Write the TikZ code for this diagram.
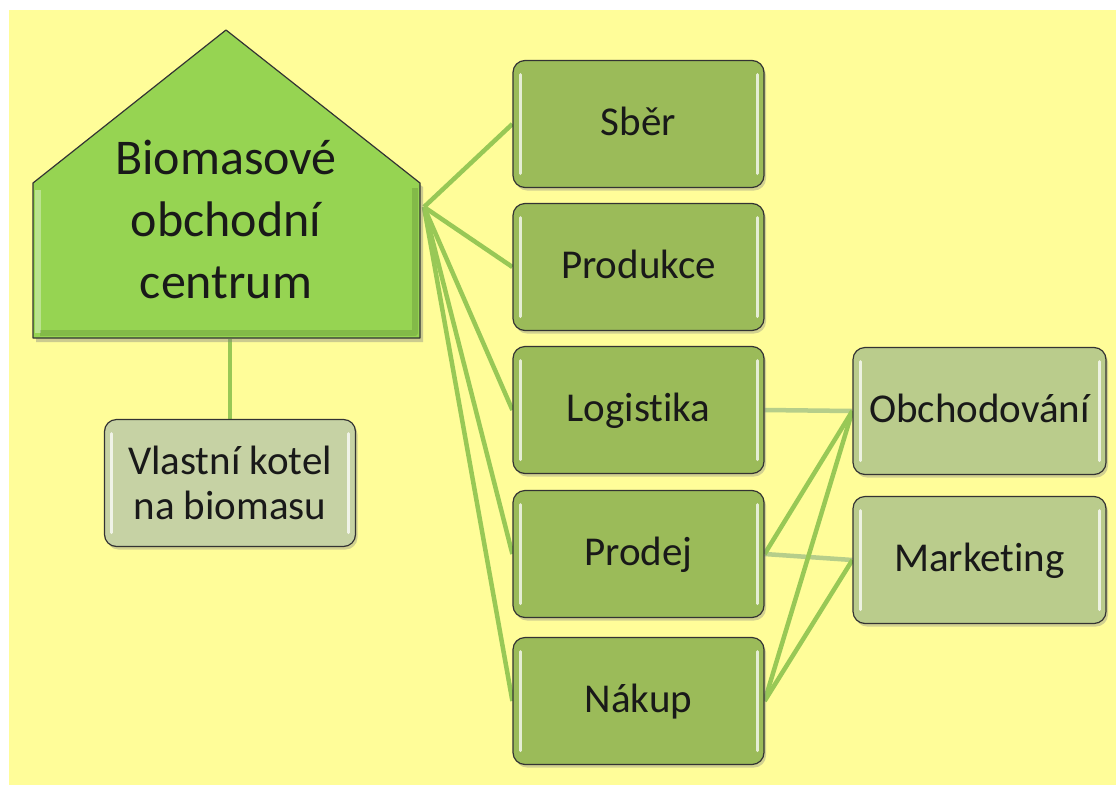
\documentclass[tikz,border=0pt]{standalone}
\usepackage{fontspec}
\setmainfont{Carlito}[Ligatures=NoCommon,RawFeature={-liga;-clig;-calt}]
\usetikzlibrary{shadows,backgrounds}

\definecolor{bgyellow}{RGB}{255,253,153}
\definecolor{housegreen}{RGB}{150,212,82}
\definecolor{olivebox}{RGB}{155,187,89}
\definecolor{palebox}{RGB}{186,204,140}
\definecolor{greybox}{RGB}{198,210,164}
\definecolor{linkgreen}{RGB}{152,200,86}
\definecolor{linkpale}{RGB}{182,206,138}

\begin{document}
\begin{tikzpicture}[x=1pt,y=-1pt,line join=round,
                    text=black!90]
  \tikzstyle{gloss}=[path picture={
      \draw[white,opacity=0.75,line width=3pt,line cap=round]
        ([xshift=7pt,yshift=-14pt]path picture bounding box.north west) --
        ([xshift=7pt,yshift=14pt]path picture bounding box.south west);
      \draw[white,opacity=0.75,line width=3pt,line cap=round]
        ([xshift=-7pt,yshift=-14pt]path picture bounding box.north east) --
        ([xshift=-7pt,yshift=14pt]path picture bounding box.south east);}]
  \tikzstyle{task}=[gloss,draw=black!80,line width=1.2pt,rounded corners=12pt,
      fill=olivebox,minimum width=251pt,minimum height=127pt,inner sep=0pt,
      font=\fontsize{41}{45}\selectfont,text height=30pt,text depth=8pt,
      drop shadow={shadow xshift=2pt,shadow yshift=-3pt,opacity=0.35}]
  \tikzstyle{subtask}=[task,fill=palebox,minimum width=253pt]
  \tikzstyle{link}=[draw=linkgreen,line width=4.5pt]
  \tikzstyle{softlink}=[draw=linkpale,line width=4.5pt]

  \useasboundingbox (0,0) rectangle (1116,785);

  % house
  \path[fill=housegreen,draw=black!80,line width=1.2pt,
        drop shadow={shadow xshift=3pt,shadow yshift=-4pt,opacity=0.4}]
    (33,183) -- (226,30) -- (420,183) -- (420,338) -- (33,338) -- cycle;
  \draw[white,opacity=0.35,line width=6pt] (38,190) -- (38,333);
  \draw[black,opacity=0.12,line width=6pt] (415,188) -- (415,333) -- (40,333);
  \node[font=\fontsize{50}{62}\selectfont,align=center] (hub) at (226,219)
    {Biomasové\\obchodní\\centrum};
  \coordinate (fan) at (424,207);
  \coordinate (base) at (230,339);

  \node[task,fill=greybox,align=center,text height=,text depth=]
    (kotel) at (230,483) {Vlastní kotel\\na biomasu};

  \node[task] (sber)   at (638.5,124) {Sběr};
  \node[task] (prod)   at (638.5,267) {Produkce};
  \node[task] (logist) at (638.5,410) {Logistika};
  \node[task] (prodej) at (638.5,554) {Prodej};
  \node[task] (nakup)  at (638.5,701) {Nákup};

  \node[subtask] (obch) at (979.5,411) {Obchodování};
  \node[subtask] (mark) at (979.5,560) {Marketing};

  \begin{scope}[on background layer]
    \fill[bgyellow] (9,10) rectangle (1116,785);
    \path[link] (base) -- (kotel.north);
    \path[link] (fan) -- (sber.west);
    \path[link] (fan) -- (prod.west);
    \path[link] (fan) -- (logist.west);
    \path[link] (fan) -- (prodej.west);
    \path[link] (fan) -- (nakup.west);
    \path[softlink] (logist.east) -- (obch.west);
    \path[softlink] (prodej.east) -- (mark.west);
    \path[link] (prodej.east) -- (obch.west);
    \path[link] (nakup.east) -- (obch.west);
    \path[link] (nakup.east) -- (mark.west);
  \end{scope}
\end{tikzpicture}
\end{document}
